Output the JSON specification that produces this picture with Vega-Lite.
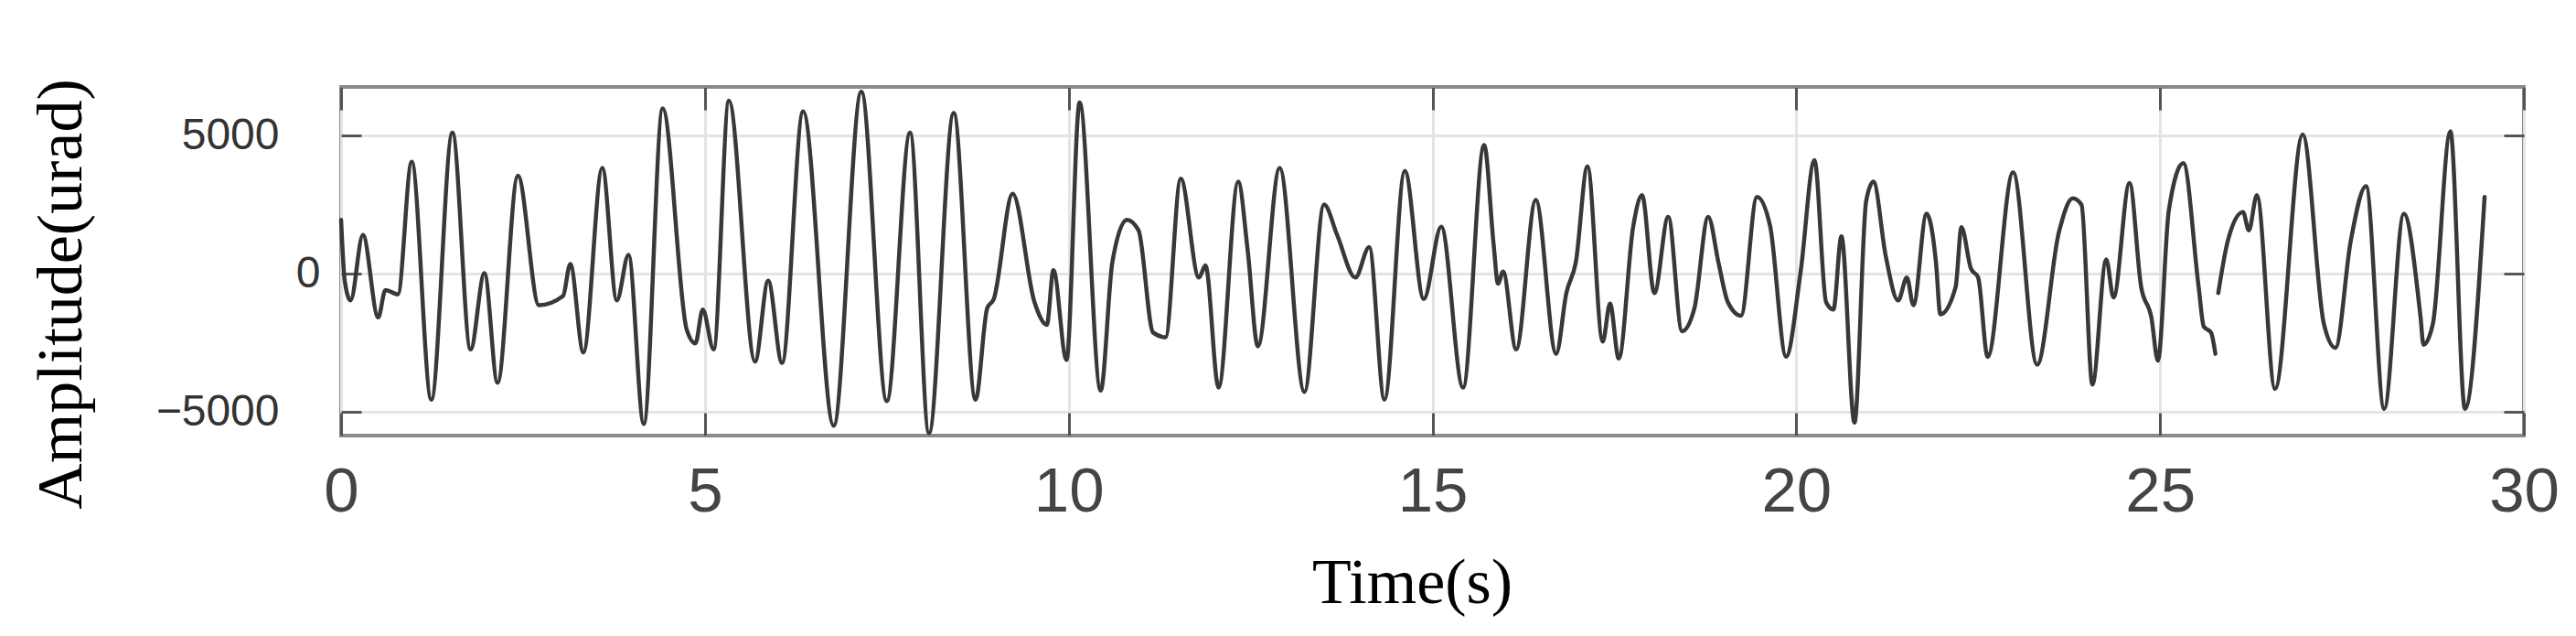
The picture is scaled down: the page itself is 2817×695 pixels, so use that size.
{
  "$schema": "https://vega.github.io/schema/vega-lite/v6.json",
  "width": 2387,
  "height": 381,
  "autosize": {"type": "none"},
  "padding": {"left": 373, "top": 95, "right": 57, "bottom": 219},
  "background": "white",
  "config": {"view": {"stroke": "#8a8a8a", "strokeWidth": 4}},
  "datasets": {
    "a": [
      {"t": 0.00, "v": 1950}, {"t": 0.05, "v": -250}, {"t": 0.13, "v": -970}, {"t": 0.30, "v": 1400},
      {"t": 0.51, "v": -1580}, {"t": 0.61, "v": -590}, {"t": 0.78, "v": -750}, {"t": 0.97, "v": 4050},
      {"t": 1.24, "v": -4560}, {"t": 1.53, "v": 5100}, {"t": 1.78, "v": -2740}, {"t": 1.97, "v": 20},
      {"t": 2.15, "v": -3950}, {"t": 2.43, "v": 3550}, {"t": 2.72, "v": -1140}, {"t": 3.05, "v": -810},
      {"t": 3.15, "v": 350}, {"t": 3.33, "v": -2850}, {"t": 3.59, "v": 3830}, {"t": 3.79, "v": -970},
      {"t": 3.95, "v": 680}, {"t": 4.16, "v": -5440}, {"t": 4.42, "v": 5980}, {"t": 4.75, "v": -2020},
      {"t": 4.87, "v": -2520}, {"t": 4.97, "v": -1300}, {"t": 5.12, "v": -2740}, {"t": 5.33, "v": 6260},
      {"t": 5.69, "v": -3180}, {"t": 5.87, "v": -250}, {"t": 6.06, "v": -3230}, {"t": 6.35, "v": 5870},
      {"t": 6.77, "v": -5500}, {"t": 7.15, "v": 6590}, {"t": 7.50, "v": -4610}, {"t": 7.82, "v": 5100},
      {"t": 8.08, "v": -5770}, {"t": 8.42, "v": 5820}, {"t": 8.72, "v": -4560}, {"t": 8.88, "v": -1250},
      {"t": 8.97, "v": -920}, {"t": 9.23, "v": 2890}, {"t": 9.53, "v": -1030}, {"t": 9.70, "v": -1850},
      {"t": 9.79, "v": 130}, {"t": 9.97, "v": -3120}, {"t": 10.15, "v": 6200}, {"t": 10.44, "v": -4230},
      {"t": 10.60, "v": 410}, {"t": 10.80, "v": 1950}, {"t": 10.96, "v": 1570}, {"t": 11.16, "v": -2130},
      {"t": 11.33, "v": -2300}, {"t": 11.54, "v": 3440}, {"t": 11.79, "v": -140}, {"t": 11.88, "v": 300},
      {"t": 12.06, "v": -4120}, {"t": 12.33, "v": 3330}, {"t": 12.46, "v": 850}, {"t": 12.60, "v": -2630},
      {"t": 12.90, "v": 3830}, {"t": 13.24, "v": -4280}, {"t": 13.51, "v": 2500}, {"t": 13.69, "v": 1400},
      {"t": 13.94, "v": -140}, {"t": 14.13, "v": 960}, {"t": 14.34, "v": -4560}, {"t": 14.62, "v": 3720},
      {"t": 14.88, "v": -920}, {"t": 15.12, "v": 1700}, {"t": 15.42, "v": -4120}, {"t": 15.71, "v": 4660},
      {"t": 15.84, "v": 1070}, {"t": 15.90, "v": -360}, {"t": 15.97, "v": 80}, {"t": 16.15, "v": -2740},
      {"t": 16.42, "v": 2670}, {"t": 16.70, "v": -2900}, {"t": 16.84, "v": -700}, {"t": 16.97, "v": 410},
      {"t": 17.13, "v": 3890}, {"t": 17.34, "v": -2460}, {"t": 17.44, "v": -1080}, {"t": 17.56, "v": -3070},
      {"t": 17.76, "v": 1730}, {"t": 17.88, "v": 2840}, {"t": 18.05, "v": -700}, {"t": 18.24, "v": 2060},
      {"t": 18.43, "v": -2080}, {"t": 18.60, "v": -1250}, {"t": 18.79, "v": 2060}, {"t": 18.93, "v": 410},
      {"t": 19.06, "v": -1030}, {"t": 19.24, "v": -1520}, {"t": 19.46, "v": 2780}, {"t": 19.64, "v": 1730},
      {"t": 19.86, "v": -3000}, {"t": 20.06, "v": 80}, {"t": 20.25, "v": 4110}, {"t": 20.41, "v": -1030},
      {"t": 20.51, "v": -1300}, {"t": 20.62, "v": 1350}, {"t": 20.80, "v": -5390}, {"t": 20.96, "v": 2620},
      {"t": 21.06, "v": 3330}, {"t": 21.23, "v": 630}, {"t": 21.40, "v": -970}, {"t": 21.52, "v": -140},
      {"t": 21.61, "v": -1140}, {"t": 21.79, "v": 2170}, {"t": 21.92, "v": 410}, {"t": 21.98, "v": -1470},
      {"t": 22.19, "v": -480}, {"t": 22.27, "v": 1680}, {"t": 22.40, "v": 190}, {"t": 22.50, "v": -140},
      {"t": 22.63, "v": -3010}, {"t": 22.98, "v": 3670}, {"t": 23.31, "v": -3290}, {"t": 23.61, "v": 1510},
      {"t": 23.80, "v": 2730}, {"t": 23.92, "v": 2500}, {"t": 24.07, "v": -4010}, {"t": 24.26, "v": 520},
      {"t": 24.36, "v": -860}, {"t": 24.58, "v": 3280}, {"t": 24.74, "v": -480}, {"t": 24.88, "v": -1580},
      {"t": 24.97, "v": -3150}, {"t": 25.12, "v": 2290}, {"t": 25.32, "v": 4000}, {"t": 25.53, "v": -480},
      {"t": 25.60, "v": -1910}, {"t": 25.70, "v": -2130}, {"t": 25.76, "v": -2900}
    ],
    "b": [
      {"t": 25.80, "v": -700}, {"t": 25.93, "v": 1180}, {"t": 26.14, "v": 2230}, {"t": 26.22, "v": 1570},
      {"t": 26.33, "v": 2840}, {"t": 26.58, "v": -4170}, {"t": 26.96, "v": 5040}, {"t": 27.25, "v": -1800},
      {"t": 27.41, "v": -2680}, {"t": 27.62, "v": 1180}, {"t": 27.83, "v": 3170}, {"t": 28.08, "v": -4890},
      {"t": 28.35, "v": 2170}, {"t": 28.58, "v": -1580}, {"t": 28.62, "v": -2570}, {"t": 28.75, "v": -1800},
      {"t": 28.99, "v": 5150}, {"t": 29.19, "v": -4890}, {"t": 29.46, "v": 2780}
    ]
  },
  "layer": [
    {
      "data": {"name": "a"},
      "mark": {"type": "line", "interpolate": "monotone", "color": "#383838", "strokeWidth": 4.5, "strokeJoin": "round", "strokeCap": "round"},
      "encoding": {
        "x": {
          "field": "t", "type": "quantitative",
          "scale": {"domain": [0, 30], "nice": false, "zero": false},
          "axis": {
            "orient": "bottom", "values": [0, 5, 10, 15, 20, 25, 30], "format": "d",
            "grid": true, "gridColor": "#e4e4e4", "gridWidth": 3,
            "domain": false, "ticks": true, "tickSize": -25, "tickColor": "#555555", "tickWidth": 3,
            "labelFont": "Liberation Sans", "labelFontSize": 69, "labelColor": "#444444",
            "labelBaseline": "alphabetic", "labelPadding": 107, "labelFlush": false, "labelOverlap": false,
            "title": "Time(s)", "titleFont": "Liberation Serif", "titleFontSize": 70, "titleFontWeight": "normal",
            "titleColor": "#000000", "titleX": 1171, "titleY": 182, "titleAlign": "center", "titleBaseline": "alphabetic"
          }
        },
        "y": {
          "field": "v", "type": "quantitative",
          "scale": {"domain": [-5860, 6760], "nice": false, "zero": false},
          "axis": {
            "orient": "left", "values": [-5000, 0, 5000], "format": "d",
            "grid": true, "gridColor": "#e4e4e4", "gridWidth": 3,
            "domain": false, "ticks": true, "tickSize": -22, "tickColor": "#555555", "tickWidth": 3,
            "labelFont": "Liberation Sans", "labelFontSize": 48, "labelColor": "#333333",
            "labelPadding": {"condition": {"test": "datum.value === 0", "value": 45}, "value": 90},
            "labelBaseline": "middle", "labelAlign": "right", "labelFlush": false, "labelOverlap": false,
            "title": "Amplitude(urad)", "titleFont": "Liberation Serif", "titleFontSize": 70, "titleFontWeight": "normal",
            "titleColor": "#000000", "titleAngle": -90, "titleX": -285, "titleY": 226, "titleAlign": "center", "titleBaseline": "alphabetic"
          }
        }
      }
    },
    {
      "data": {"name": "b"},
      "mark": {"type": "line", "interpolate": "monotone", "color": "#383838", "strokeWidth": 4.5, "strokeJoin": "round", "strokeCap": "round"},
      "encoding": {
        "x": {
          "field": "t", "type": "quantitative",
          "axis": {
            "orient": "top", "values": [0, 5, 10, 15, 20, 25, 30], "grid": false, "domain": false,
            "labels": false, "ticks": true, "tickSize": -25, "tickColor": "#555555", "tickWidth": 3, "title": null
          }
        },
        "y": {
          "field": "v", "type": "quantitative",
          "axis": {
            "orient": "right", "values": [-5000, 0, 5000], "grid": false, "domain": false,
            "labels": false, "ticks": true, "tickSize": -22, "tickColor": "#555555", "tickWidth": 3, "title": null
          }
        }
      }
    }
  ],
  "resolve": {"axis": {"x": "independent", "y": "independent"}}
}
